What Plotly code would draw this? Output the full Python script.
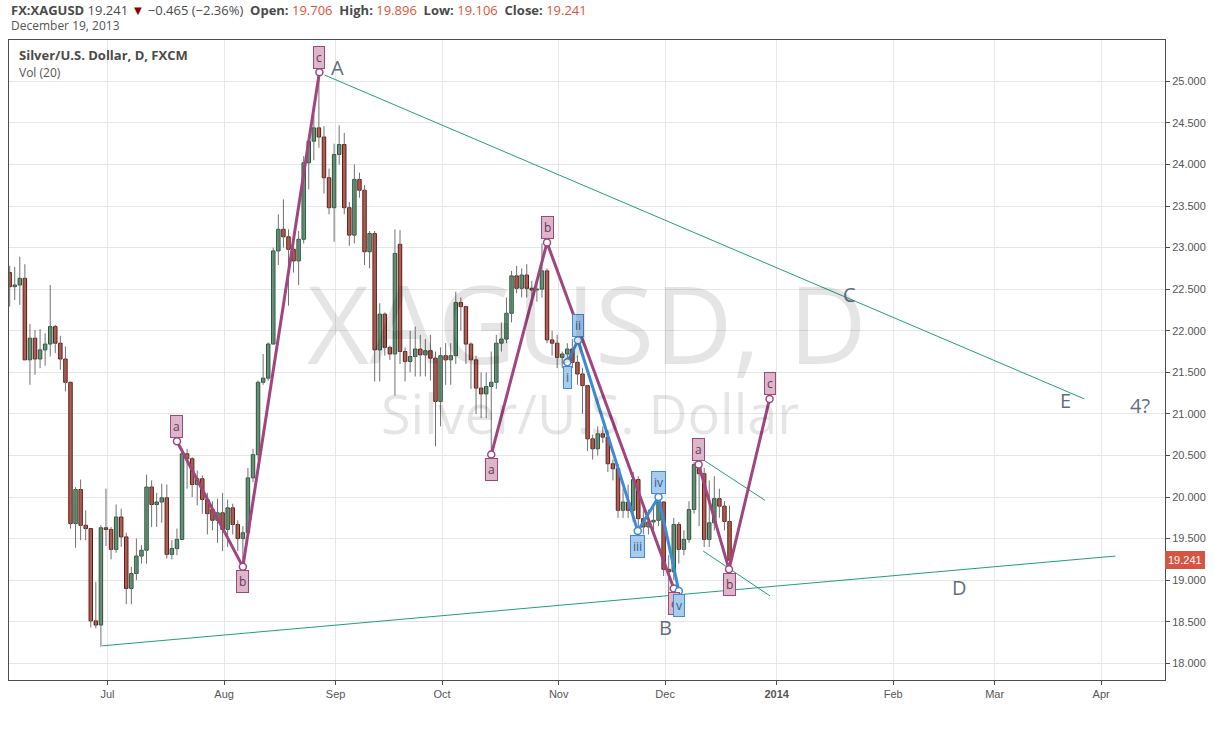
import numpy as np
import pandas as pd
import plotly.graph_objects as go

# ---------------- data ----------------
dates = pd.bdate_range("2013-06-04", "2013-12-19")

opens = [22.70, 22.53, 22.55, 22.63, 21.65, 21.91, 21.66, 21.77, 21.84, 22.05, 21.85, 21.66, 21.38, 19.68, 20.09, 19.66, 19.62, 18.51, 18.46,
         19.63, 19.61, 19.37, 19.76, 19.52, 18.90, 19.08, 19.29, 19.36, 20.12, 19.91, 19.94, 19.99, 19.31, 19.38, 19.49, 20.52, 20.46, 20.15, 20.22,
         19.97, 19.85, 19.72, 19.81, 19.61, 19.87, 19.67, 19.50, 19.57, 20.23, 20.51, 21.38, 21.43, 21.84, 22.96, 23.22, 23.13, 22.98, 22.84, 23.10,
         24.02, 24.28, 24.44, 24.33, 23.84, 23.48, 24.12, 24.24, 23.48, 23.15, 23.82, 23.69, 22.95, 23.17, 21.77, 22.20, 21.80, 21.72, 23.04, 21.75,
         21.63, 21.69, 21.78, 21.71, 21.76, 21.67, 21.15, 21.70, 21.65, 21.70, 22.34, 22.29, 21.84, 21.65, 21.31, 21.24, 21.33, 21.38, 21.85, 21.90,
         22.21, 22.66, 22.51, 22.67, 22.51, 22.49, 22.50, 22.72, 21.89, 21.85, 21.68, 21.72, 21.78, 21.62, 21.48, 21.34, 20.70, 20.58, 20.76, 20.72,
         20.40, 20.34, 19.84, 19.94, 19.84, 20.21, 19.74, 19.64, 19.70, 19.72, 19.94, 19.13, 19.10, 19.67, 19.37, 19.49, 19.85, 20.39, 20.28, 19.49,
         19.69, 19.98, 19.89, 19.706]
closes = [22.53, 22.55, 22.63, 21.65, 21.91, 21.66, 21.77, 21.84, 22.05, 21.85, 21.66, 21.38, 19.68, 20.09, 19.66, 19.62, 18.51, 18.46, 19.63,
          19.61, 19.37, 19.76, 19.52, 18.90, 19.08, 19.29, 19.36, 20.12, 19.91, 19.94, 19.99, 19.31, 19.38, 19.49, 20.52, 20.46, 20.15, 20.22, 19.97,
          19.80, 19.72, 19.81, 19.61, 19.87, 19.67, 19.50, 19.57, 20.23, 20.51, 21.38, 21.43, 21.84, 22.96, 23.22, 23.13, 22.98, 22.84, 23.10, 24.02,
          24.28, 24.44, 24.33, 23.84, 23.48, 24.12, 24.24, 23.48, 23.15, 23.82, 23.69, 22.95, 23.17, 21.77, 22.20, 21.80, 21.72, 22.93, 21.75, 21.63,
          21.69, 21.78, 21.71, 21.76, 21.67, 21.15, 21.70, 21.65, 21.70, 22.34, 22.29, 21.84, 21.65, 21.31, 21.24, 21.33, 21.38, 21.85, 21.90, 22.21,
          22.66, 22.51, 22.67, 22.51, 22.49, 22.50, 22.72, 21.89, 21.85, 21.68, 21.72, 21.78, 21.62, 21.48, 21.34, 20.70, 20.58, 20.76, 20.72, 20.40,
          20.34, 19.84, 19.94, 19.84, 20.21, 19.74, 19.64, 19.70, 19.72, 19.94, 19.13, 19.10, 19.67, 19.37, 19.49, 19.85, 20.39, 20.28, 19.49, 19.69,
          19.98, 19.89, 19.706, 19.241]
highs = [22.78, 22.77, 22.89, 22.80, 22.08, 22.01, 22.02, 21.97, 22.55, 22.07, 21.94, 21.81, 21.38, 20.12, 20.21, 19.84, 19.62, 18.98, 19.66,
         20.10, 19.64, 19.91, 19.86, 19.57, 19.16, 19.50, 19.42, 20.27, 20.20, 20.05, 20.16, 20.15, 19.48, 19.62, 20.58, 20.58, 20.48, 20.32, 20.26,
         20.05, 19.95, 19.98, 20.05, 19.97, 19.92, 19.72, 19.65, 20.35, 20.58, 21.40, 21.72, 21.86, 23.00, 23.40, 23.58, 23.22, 23.05, 23.20, 24.10,
         24.35, 24.60, 25.10, 24.46, 23.95, 24.25, 24.47, 24.38, 23.55, 24.00, 23.90, 23.75, 23.20, 23.20, 22.33, 22.22, 21.82, 23.22, 23.21, 21.80,
         22.00, 22.05, 21.95, 21.90, 21.95, 21.75, 21.80, 21.85, 21.85, 22.47, 22.40, 22.30, 21.86, 21.70, 21.50, 21.50, 21.75, 21.95, 22.10, 22.40,
         22.72, 22.78, 22.75, 22.80, 22.60, 22.60, 23.05, 22.75, 22.00, 21.95, 21.75, 21.85, 21.90, 21.70, 21.55, 21.35, 20.75, 20.85, 20.85, 20.80,
         20.45, 20.40, 20.10, 20.15, 20.30, 20.25, 19.85, 19.85, 19.90, 20.00, 19.95, 19.30, 19.75, 19.70, 19.60, 19.95, 20.42, 20.40, 20.35, 20.20,
         20.25, 20.10, 19.95, 19.896]
lows = [22.29, 22.37, 22.31, 21.65, 21.35, 21.47, 21.55, 21.58, 21.69, 21.73, 21.53, 21.27, 19.62, 19.39, 19.48, 19.48, 18.43, 18.42, 18.20,
        19.41, 19.25, 19.33, 19.40, 18.71, 18.71, 19.00, 19.20, 19.20, 19.64, 19.64, 19.69, 19.26, 19.25, 19.30, 19.49, 20.10, 20.00, 19.90, 19.80,
        19.55, 19.60, 19.45, 19.35, 19.40, 19.55, 19.35, 19.17, 19.52, 20.18, 20.45, 21.35, 21.40, 21.84, 22.79, 23.00, 22.30, 22.70, 22.55, 23.05,
        23.70, 24.05, 24.20, 23.65, 23.40, 23.07, 24.00, 23.40, 23.02, 23.05, 23.60, 22.79, 22.75, 21.39, 21.39, 21.70, 21.65, 21.22, 21.60, 21.39,
        21.50, 21.45, 21.45, 21.45, 21.40, 20.61, 20.85, 21.35, 21.35, 21.60, 22.00, 21.60, 21.30, 21.00, 20.95, 20.95, 20.52, 21.30, 21.75, 21.85,
        22.10, 22.45, 22.40, 22.40, 22.30, 22.35, 22.40, 21.85, 21.70, 21.55, 21.55, 21.60, 21.55, 21.35, 21.00, 20.55, 20.45, 20.50, 20.65, 20.30,
        20.20, 19.75, 19.75, 19.75, 19.70, 19.55, 19.55, 19.55, 19.60, 19.65, 19.05, 18.83, 19.00, 19.20, 19.30, 19.45, 19.80, 19.65, 19.40, 19.40,
        19.60, 19.75, 19.60, 19.106]

# month tick labels (first trading day of each month)
tick_dates = ["2013-07-01", "2013-08-01", "2013-09-02", "2013-10-01", "2013-11-01", "2013-12-02",
              "2014-01-01", "2014-02-03", "2014-03-03", "2014-04-01"]
tick_labels = ["Jul", "Aug", "Sep", "Oct", "Nov", "Dec", "<b>2014</b>", "Feb", "Mar", "Apr"]

# Elliott wave points (bar position counted in trading days from Jul 1 2013, price)
wave1_x = [13.7, 26.7, 41.8]
wave1_y = [20.67, 19.16, 25.11]
wave2_x = [75.7, 86.7, 111.7]
wave2_y = [20.51, 23.06, 18.90]
wave3_x = [116.6, 122.6, 130.6]
wave3_y = [20.39, 19.13, 21.18]
abc_labels = ["a", "b", "c"]
abc_side = [1, -1, 1]
abc_side2 = [-1, 1, -1]
sub_x = [90.7, 92.8, 104.6, 108.7, 112.7]
sub_y = [21.62, 21.885, 19.59, 20.00, 18.87]
sub_labels = ["i", "ii", "iii", "iv", "v"]
sub_side = [-1, 1, -1, 1, -1]

# trend lines
upper_x = [42.8, 192.7]
upper_y = [25.076, 21.18]
lower_x = [-1.04, 198.8]
lower_y = [18.21, 19.29]
ch_up_x = [117.2, 129.7]
ch_up_y = [20.46, 19.96]
ch_lo_x = [117.5, 130.7]
ch_lo_y = [19.35, 18.81]

# big letters
big_text = ["A", "B", "C", "D", "E", "4?"]
big_x = [45.4, 110.1, 146.3, 168.1, 189.0, 203.7]
big_y = [25.17, 18.43, 22.44, 18.91, 21.16, 21.10]

last_price = 19.241

# ---------------- build ----------------
assert len(opens) == len(closes) == len(highs) == len(lows) == len(dates)

day0 = np.datetime64("2013-07-01")
xs = np.busday_count(day0, dates.values.astype("datetime64[D]")) - 0.3
tick_vals = np.busday_count(day0, np.array(tick_dates, dtype="datetime64[D]"))

o = np.array(opens); c = np.array(closes); h = np.array(highs); l = np.array(lows)
up = c >= o
base = np.minimum(o, c)
height = np.maximum(np.abs(c - o), 0.012)

UP_FILL, UP_LINE = "#6ba583", "#225437"
DN_FILL, DN_LINE = "#d75442", "#5b1a13"

fig = go.Figure()

# wicks
wx, wy = [], []
for xi, lo, hi in zip(xs, l, h):
    wx += [xi, xi, None]
    wy += [lo, hi, None]
fig.add_trace(go.Scatter(x=wx, y=wy, mode="lines", line=dict(color="#707070", width=1),
                         hoverinfo="skip", showlegend=False))
# bodies
fig.add_trace(go.Bar(x=xs, y=height, base=base, width=0.68,
                     marker=dict(color=[UP_FILL if u else DN_FILL for u in up],
                                 line=dict(color=[UP_LINE if u else DN_LINE for u in up], width=1)),
                     showlegend=False, hoverinfo="skip"))

TEAL = "#1f9e82"
for tx, ty in [(upper_x, upper_y), (lower_x, lower_y), (ch_up_x, ch_up_y), (ch_lo_x, ch_lo_y)]:
    fig.add_trace(go.Scatter(x=tx, y=ty, mode="lines", line=dict(color=TEAL, width=1),
                             showlegend=False, hoverinfo="skip"))

PURPLE = "#a0457e"
BLUE = "#3d8bd4"
for wx_, wy_ in [(wave1_x, wave1_y), (wave2_x, wave2_y), (wave3_x, wave3_y)]:
    fig.add_trace(go.Scatter(x=wx_, y=wy_, mode="lines+markers",
                             line=dict(color=PURPLE, width=3),
                             marker=dict(size=7, color="white", line=dict(color=PURPLE, width=1.5)),
                             showlegend=False, hoverinfo="skip"))
fig.add_trace(go.Scatter(x=sub_x, y=sub_y, mode="lines+markers",
                         line=dict(color=BLUE, width=3),
                         marker=dict(size=7, color="white", line=dict(color=BLUE, width=1.5)),
                         showlegend=False, hoverinfo="skip"))

ann = []
def wave_label(x, y, t, side, bg, border, fc):
    ann.append(dict(x=x, y=y, xref="x", yref="y", text=t, showarrow=False,
                    yshift=15 * side, bgcolor=bg, bordercolor=border, borderwidth=1,
                    borderpad=2, font=dict(family="Open Sans", size=12, color=fc)))

for wx_, wy_, sides in [(wave1_x, wave1_y, abc_side), (wave2_x, wave2_y, abc_side2), (wave3_x, wave3_y, abc_side)]:
    for x, y, t, s in zip(wx_, wy_, abc_labels, sides):
        wave_label(x, y, t, s, "#dcb6c9", PURPLE, "#6e3556")
for x, y, t, s in zip(sub_x, sub_y, sub_labels, sub_side):
    wave_label(x, y, t, s, "#abcbea", BLUE, "#2a5f94")

for t, x, y in zip(big_text, big_x, big_y):
    ann.append(dict(x=x, y=y, xref="x", yref="y", text=t, showarrow=False,
                    font=dict(family="Open Sans", size=20, color="#5f6f80")))

# watermark
ann.append(dict(x=0.5, y=0.559, xref="paper", yref="paper", text="XAGUSD, D", showarrow=False,
                font=dict(family="Open Sans", size=108, color="rgba(0,0,0,0.10)")))
ann.append(dict(x=0.503, y=0.417, xref="paper", yref="paper", text="Silver/U.S. Dollar", showarrow=False,
                font=dict(family="Open Sans", size=54, color="rgba(0,0,0,0.10)")))

# header
red = "#e0533c"
header = ("<b>FX:XAGUSD</b> 19.241 <span style='color:#8b0000'>▼</span> −0.465 (−2.36%)&nbsp;&nbsp;"
          f"<b>Open:</b> <span style='color:{red}'>19.706</span>&nbsp;&nbsp;"
          f"<b>High:</b> <span style='color:{red}'>19.896</span>&nbsp;&nbsp;"
          f"<b>Low:</b> <span style='color:{red}'>19.106</span>&nbsp;&nbsp;"
          f"<b>Close:</b> <span style='color:{red}'>19.241</span>")
ann.append(dict(x=0.0, y=1.047, xref="paper", yref="paper", text=header, showarrow=False,
                xanchor="left", yanchor="middle", font=dict(family="Open Sans", size=13, color="#4a4a4a")))
ann.append(dict(x=0.0, y=1.023, xref="paper", yref="paper", text="December 19, 2013", showarrow=False,
                xanchor="left", yanchor="middle", font=dict(family="Open Sans", size=12, color="#555")))
ann.append(dict(x=0.0069, y=0.977, xref="paper", yref="paper", text="<b>Silver/U.S. Dollar, D, FXCM</b>",
                showarrow=False, xanchor="left", yanchor="middle",
                font=dict(family="Open Sans", size=13, color="#4a4a4a")))
ann.append(dict(x=0.0069, y=0.95, xref="paper", yref="paper", text="Vol (20)", showarrow=False,
                xanchor="left", yanchor="middle", font=dict(family="Open Sans", size=12, color="#555")))

# last price badge
ann.append(dict(x=1.0, y=last_price, xref="paper", yref="y", text=f"{last_price:.3f}", showarrow=False,
                xanchor="left", yanchor="middle", bgcolor="#d75442", bordercolor="#d75442", borderpad=2,
                font=dict(family="Liberation Sans", size=11, color="white")))

fig.update_layout(
    width=1214, height=751,
    margin=dict(l=8, r=46, t=40, b=71),
    paper_bgcolor="white", plot_bgcolor="white",
    barmode="overlay", showlegend=False,
    annotations=ann,
    xaxis=dict(range=[-19.43, 208.6], tickmode="array", tickvals=tick_vals, ticktext=tick_labels,
               showgrid=True, gridcolor="#e6e6e6", zeroline=False,
               showline=True, linecolor="#4d4d4d", mirror=True, ticks="outside", ticklen=4,
               tickcolor="#4d4d4d", tickfont=dict(family="Liberation Sans", size=11, color="#555")),
    yaxis=dict(range=[17.799, 25.497], side="right", tickmode="array",
               tickvals=[18 + 0.5 * k for k in range(15)], tickformat=".3f",
               showgrid=True, gridcolor="#e6e6e6", zeroline=False,
               showline=True, linecolor="#4d4d4d", mirror=True, ticks="outside", ticklen=4,
               tickcolor="#4d4d4d", tickfont=dict(family="Liberation Sans", size=11, color="#555")),
)

fig.write_html("out.html", config={"displayModeBar": False},
               post_script="document.body.style.margin='0';")
